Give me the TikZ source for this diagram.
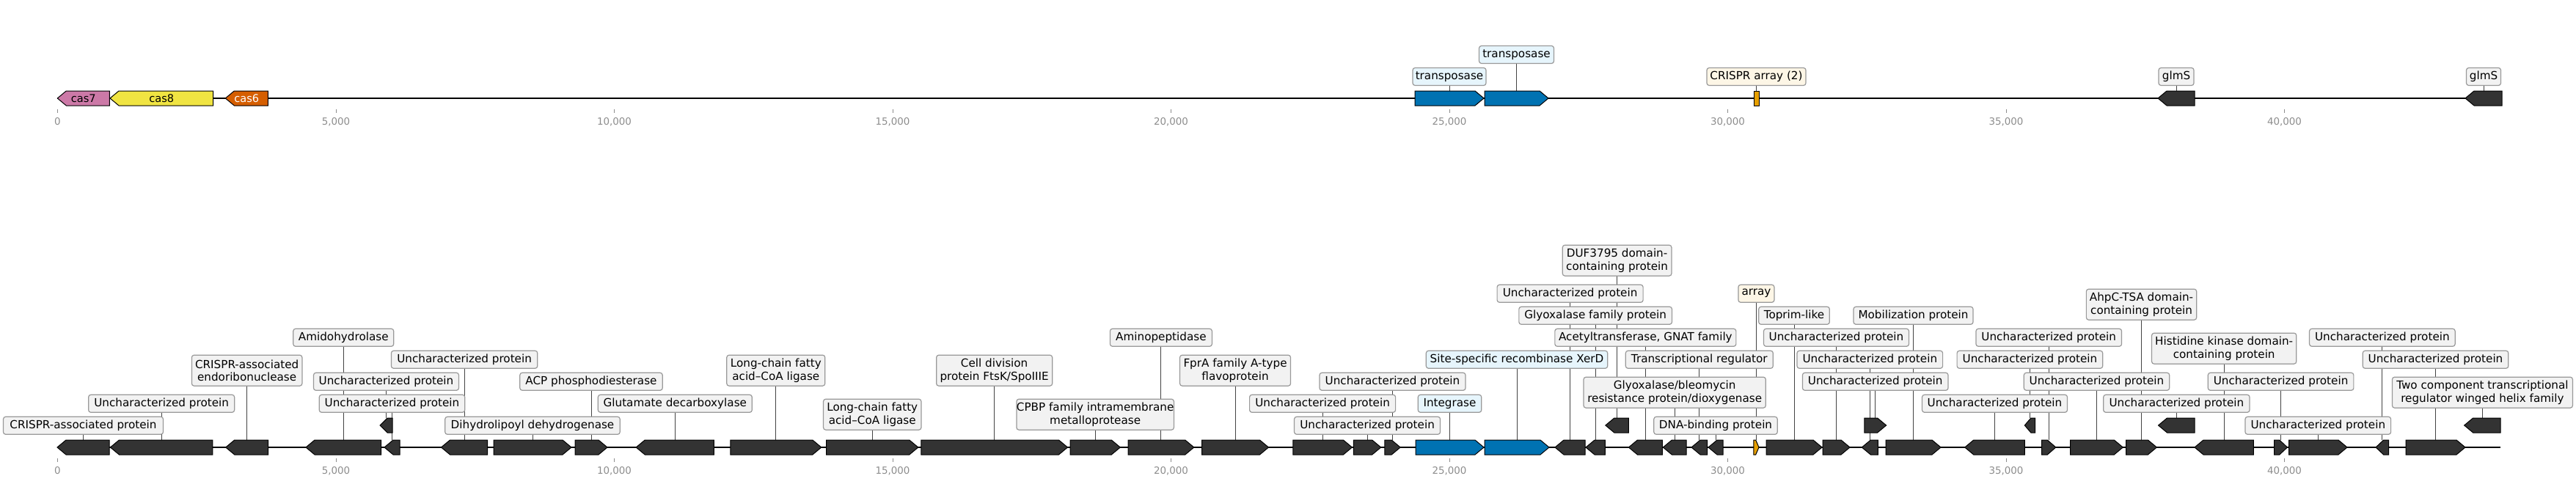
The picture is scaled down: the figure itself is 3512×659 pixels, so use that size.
\documentclass[tikz,border=0pt]{standalone}
\usepackage{fontspec}
\setmainfont{DejaVu Sans}
\definecolor{gdark}{HTML}{333333}
\definecolor{gblue}{HTML}{0072B2}
\definecolor{cpink}{HTML}{CC79A7}
\definecolor{cyellow}{HTML}{F0E442}
\definecolor{corange}{HTML}{D55E00}
\definecolor{carray}{HTML}{E69F00}
\definecolor{boxfill}{HTML}{F2F2F2}
\definecolor{boxedge}{HTML}{999999}
\definecolor{bluefill}{HTML}{E6F5FC}
\definecolor{creamfill}{HTML}{FDF6E6}
\definecolor{connc}{HTML}{444444}
\definecolor{tickc}{HTML}{8C8C8C}
\pgfdeclarelayer{bg}
\pgfsetlayers{bg,main}
\newcommand\gf[5]{%
  \pgfmathsetmacro\hl{min(12,0.6*(#3-#2))}%
  \draw[gene,#5] (#2,#4) -- ({#3-\hl},#4) -- (#3,{#4+10}) -- ({#3-\hl},{#4+20}) -- (#2,{#4+20}) -- cycle;
  \coordinate (#1) at ({(#2+#3)/2},#4);}
\newcommand\gr[5]{%
  \pgfmathsetmacro\hl{min(12,0.6*(#3-#2))}%
  \draw[gene,#5] (#3,#4) -- ({#2+\hl},#4) -- (#2,{#4+10}) -- ({#2+\hl},{#4+20}) -- (#3,{#4+20}) -- cycle;
  \coordinate (#1) at ({(#2+#3)/2},#4);}
\newcommand\glab[6]{%
  \node[lbl,minimum width=#4*0.5pt,#5] (#1) at (#2 |- 0,#3) {#6};
  \begin{pgfonlayer}{bg}\draw[conn] (#2) -- (#1.south);\end{pgfonlayer}}
\begin{document}
\begin{tikzpicture}[x=0.5pt,y=-0.5pt,
  gene/.style={draw=black,line width=0.5pt,line join=miter,fill=gdark},
  lbl/.style={draw=boxedge,fill=boxfill,rounded corners=1.6pt,line width=0.6pt,inner sep=0pt,
     minimum height=12pt,align=center,font=\fontsize{7.6}{8.6}\selectfont,text=black},
  two/.style={minimum height=21pt},
  conn/.style={draw=connc,line width=0.45pt},
  track/.style={line width=1.1pt,draw=black},
  tickmark/.style={draw=tickc,line width=0.5pt},
  ticklbl/.style={text=tickc,font=\fontsize{6.7}{7}\selectfont,inner sep=0pt},
  intext/.style={font=\fontsize{7.3}{8}\selectfont,inner sep=0pt}]
\useasboundingbox (0,0) rectangle (3512,659);

% ---------------- top track ----------------
\draw[track] (78,134) -- (3411,134);
\gr{c7}{78.3}{149.3}{124}{fill=cpink}
\gr{c8}{150}{290.5}{124}{fill=cyellow}
\gr{c6}{307.3}{365.3}{124}{fill=corange}
\node[intext] (t7) at (c7 |- 0,134) {cas7};
\node[intext] (t8) at (c8 |- 0,134) {cas8};
\node[intext,text=white] (t6) at (c6 |- 0,134) {cas6};
\gf{tp1}{1929}{2023}{124}{fill=gblue}
\gf{tp2}{2024}{2111}{124}{fill=gblue}
\draw[gene,fill=carray] (2391,124) rectangle (2398,144);
\coordinate (ca) at (2394.5,124);
\gr{gl1}{2942}{2992}{124}{}
\gr{gl2}{3361}{3411}{124}{}
\glab{ltp1}{tp1}{104.5}{100}{fill=bluefill}{transposase}
\glab{ltp2}{tp2}{74.5}{102}{fill=bluefill}{transposase}
\glab{lca}{ca}{104.5}{135}{fill=creamfill}{CRISPR array (2)}
\glab{lgl1}{gl1}{104.5}{48}{}{glmS}
\glab{lgl2}{gl2}{104.5}{47}{}{glmS}
\foreach \k/\t in {0/0,1/{5,000},2/{10,000},3/{15,000},4/{20,000},5/{25,000},6/{30,000},7/{35,000},8/{40,000}}{
  \draw[tickmark] ({78.5+379.5*\k},149) -- ({78.5+379.5*\k},154);
  \node[ticklbl] (ta\k) at ({78.5+379.5*\k},166) {\t};
}

% ---------------- bottom track ----------------
\draw[track] (78,610) -- (3409,610);
\gr{g1}{78}{149}{600}{}
\gr{g2}{150.4}{289.9}{600}{}
\gr{g3}{307.7}{365.6}{600}{}
\gr{g4}{417}{519.5}{600}{}
\gr{g5}{518}{535}{570}{}
\gr{g6}{524}{545}{600}{}
\gr{g7}{601.5}{664.7}{600}{}
\gf{g8}{673}{779}{600}{}
\gf{g9}{784}{828}{600}{}
\gr{g10}{867.2}{973.4}{600}{}
\gf{g11}{995.8}{1119.8}{600}{}
\gf{g12}{1126.7}{1251.8}{600}{}
\gf{g13}{1255.8}{1455.5}{600}{}
\gf{g14}{1459}{1527.3}{600}{}
\gf{g15}{1538}{1627.8}{600}{}
\gf{g16}{1638.6}{1729.5}{600}{}
\gf{g17}{1762.8}{1843.4}{600}{}
\gf{g18}{1845.4}{1882.7}{600}{}
\gf{g19}{1887.8}{1909.2}{600}{}
\gf{g20}{1930}{2023}{600}{fill=gblue}
\gf{g21}{2024}{2112}{600}{fill=gblue}
\gr{g22}{2120}{2161.2}{600}{}
\gr{g23}{2162}{2188.3}{600}{}
\gr{g24}{2188.8}{2220.4}{570}{}
\gr{g25}{2220.4}{2266.3}{600}{}
\gr{g26}{2267.3}{2299}{600}{}
\gr{g27}{2306}{2327.6}{600}{}
\gr{g28}{2329}{2349}{600}{}
\gf{g29}{2390.8}{2398}{600}{fill=carray}
\gf{g30}{2408}{2484}{600}{}
\gf{g31}{2485}{2522}{600}{}
\gf{g32}{2541.8}{2571.6}{570}{}
\gr{g33}{2538.3}{2560.3}{600}{}
\gf{g34}{2571}{2646}{600}{}
\gr{g35}{2678.7}{2760.3}{600}{}
\gr{g36}{2760.3}{2774.5}{570}{}
\gf{g37}{2783.7}{2802.8}{600}{}
\gf{g38}{2822.7}{2894.3}{600}{}
\gf{g39}{2898.6}{2940.4}{600}{}
\gr{g40}{2942.5}{2992.2}{570}{}
\gr{g41}{2992}{3072.3}{600}{}
\gf{g42}{3100.7}{3118.4}{600}{}
\gf{g43}{3120.6}{3200}{600}{}
\gr{g44}{3239}{3256.7}{600}{}
\gf{g45}{3280}{3361}{600}{}
\gr{g46}{3359.6}{3409.2}{570}{}

% labels: L1 580.3, L2 550.3, L3 520.3, L4 490.3, L5 460.3, L6 430.3, L7 400.3
\glab{l1}{g1}{580.3}{218}{}{CRISPR-associated protein}
\glab{l2}{g2}{550.3}{199}{}{Uncharacterized protein}
\glab{l3}{g3}{505.2}{150.5}{two}{CRISPR-associated\\endoribonuclease}
\glab{l4}{g4}{460.3}{137}{}{Amidohydrolase}
\glab{l5}{g5}{520.3}{198}{}{Uncharacterized protein}
\glab{l6}{g6}{550.3}{198.5}{}{Uncharacterized protein}
\glab{l7}{g7}{490.3}{199.4}{}{Uncharacterized protein}
\glab{l8}{g8}{580.3}{238.5}{}{Dihydrolipoyl dehydrogenase}
\glab{l9}{g9}{520.3}{194.4}{}{ACP phosphodiesterase}
\glab{l10}{g10}{550.3}{210}{}{Glutamate decarboxylase}
\glab{l11}{g11}{505.2}{134}{two}{Long-chain fatty\\acid--CoA ligase}
\glab{l12}{g12}{565.2}{133.4}{two}{Long-chain fatty\\acid--CoA ligase}
\glab{l13}{g13}{505.2}{158}{two}{Cell division\\protein FtsK/SpoIIIE}
\glab{l14}{g14}{565.2}{208.4}{two}{CPBP family intramembrane\\metalloprotease}
\glab{l15}{g15}{460.3}{139}{}{Aminopeptidase}
\glab{l16}{g16}{505.2}{151}{two}{FprA family A-type\\flavoprotein}
\glab{l17}{g17}{550.3}{199}{}{Uncharacterized protein}
\glab{l18}{g18}{580.3}{199}{}{Uncharacterized protein}
\glab{l19}{g19}{520.3}{199}{}{Uncharacterized protein}
\glab{l20}{g20}{550.3}{86.5}{fill=bluefill}{Integrase}
\glab{l21}{g21}{490.3}{247.4}{fill=bluefill}{Site-specific recombinase XerD}
\glab{l22}{g22}{400.3}{199}{}{Uncharacterized protein}
\glab{l23}{g23}{430.3}{208.6}{}{Glyoxalase family protein}
\glab{l24}{g24}{355.2}{148.6}{two}{DUF3795 domain-\\containing protein}
\glab{l25}{g25}{460.3}{247}{}{Acetyltransferase, GNAT family}
\glab{l26}{g26}{535.2}{248.3}{two}{Glyoxalase/bleomycin\\resistance protein/dioxygenase}
\glab{l27}{g27}{490.3}{201}{}{Transcriptional regulator}
\glab{l28}{g28}{580.3}{168.4}{}{DNA-binding protein}
\glab{l29}{g29}{400.3}{49}{fill=creamfill}{array}
\glab{l30}{g30}{430.3}{96.6}{}{Toprim-like}
\glab{l31}{g31}{460.3}{198}{}{Uncharacterized protein}
\glab{l32}{g32}{520.3}{198.6}{}{Uncharacterized protein}
\glab{l33}{g33}{490.3}{198.6}{}{Uncharacterized protein}
\glab{l34}{g34}{430.3}{163}{}{Mobilization protein}
\glab{l35}{g35}{550.3}{198}{}{Uncharacterized protein}
\glab{l36}{g36}{490.3}{198.6}{}{Uncharacterized protein}
\glab{l37}{g37}{460.3}{198.6}{}{Uncharacterized protein}
\glab{l38}{g38}{520.3}{198.4}{}{Uncharacterized protein}
\glab{l39}{g39}{415.2}{150.3}{two}{AhpC-TSA domain-\\containing protein}
\glab{l40}{g40}{550.3}{199.3}{}{Uncharacterized protein}
\glab{l41}{g41}{475.2}{197.2}{two}{Histidine kinase domain-\\containing protein}
\glab{l42}{g42}{520.3}{198.6}{}{Uncharacterized protein}
\glab{l43}{g43}{580.3}{198.6}{}{Uncharacterized protein}
\glab{l44}{g44}{460.3}{198.6}{}{Uncharacterized protein}
\glab{l45}{g45}{490.3}{198.6}{}{Uncharacterized protein}
\glab{l46}{g46}{535.2}{246}{two}{Two component transcriptional\\regulator winged helix family}

\foreach \k/\t in {0/0,1/{5,000},2/{10,000},3/{15,000},4/{20,000},5/{25,000},6/{30,000},7/{35,000},8/{40,000}}{
  \draw[tickmark] ({78.5+379.5*\k},625) -- ({78.5+379.5*\k},630);
  \node[ticklbl] (tb\k) at ({78.5+379.5*\k},642) {\t};
}
\end{tikzpicture}
\end{document}
